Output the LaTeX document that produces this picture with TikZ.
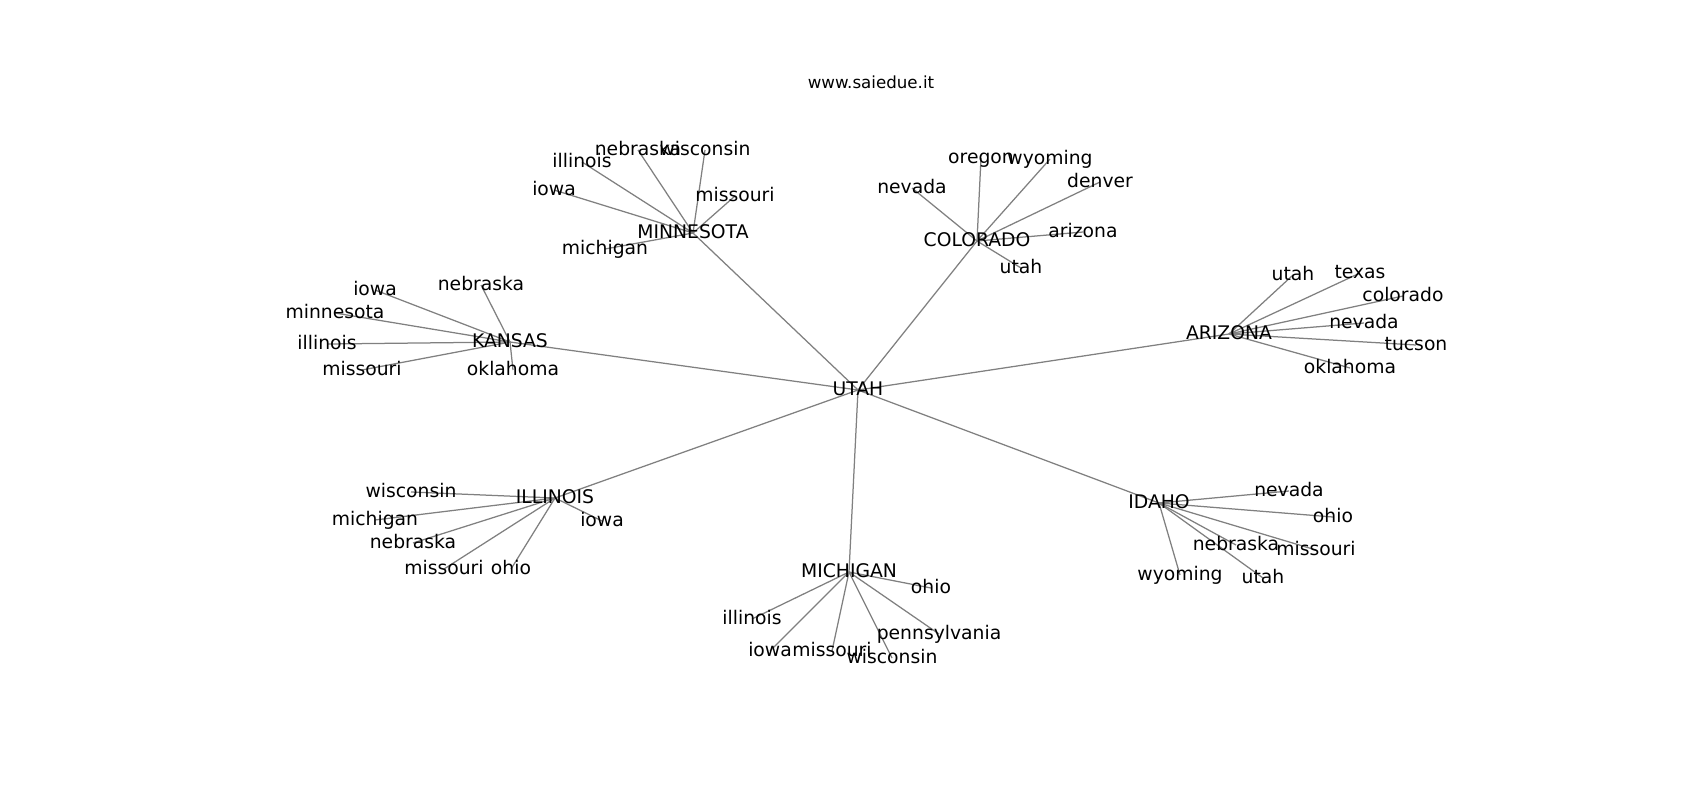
\documentclass[tikz,border=0pt]{standalone}
\usepackage{fontspec}
\setmainfont{DejaVu Sans}
\definecolor{edgegray}{RGB}{128,128,128}
\tikzset{
  lbl/.style={inner sep=0pt, anchor=center, text height=0.92em, text depth=0.08em, font=\fontsize{13.5}{16}\selectfont},
  ttl/.style={inner sep=0pt, anchor=center, font=\fontsize{12}{14}\selectfont},
  edge/.style={draw=edgegray, line width=0.9pt}
}
\begin{document}
\begin{tikzpicture}[x=0.72pt,y=-0.72pt]
\useasboundingbox (0,0) rectangle (1700,800);
\fill[white] (0,0) rectangle (1700,800);
% hubs
\coordinate (ut) at (858,390);
\coordinate (mn) at (693,233);
\coordinate (co) at (977,241);
\coordinate (ks) at (510,342);
\coordinate (az) at (1229,334);
\coordinate (il) at (555,498);
\coordinate (mi) at (849,572);
\coordinate (id) at (1159,503);
% minnesota leaves
\coordinate (mn-ne) at (638,150);
\coordinate (mn-wi) at (705,150);
\coordinate (mn-il) at (582,162);
\coordinate (mn-io) at (554,190);
\coordinate (mn-mo) at (735,196);
\coordinate (mn-mi) at (605,249);
% colorado leaves
\coordinate (co-or) at (981,158);
\coordinate (co-wy) at (1050,159);
\coordinate (co-de) at (1100,182);
\coordinate (co-nv) at (912,188);
\coordinate (co-az) at (1083,232);
\coordinate (co-ut) at (1021,268);
% kansas leaves
\coordinate (ks-ne) at (481,285);
\coordinate (ks-io) at (375,290);
\coordinate (ks-mn) at (335,313);
\coordinate (ks-il) at (327,344);
\coordinate (ks-mo) at (362,370);
\coordinate (ks-ok) at (513,370);
% arizona leaves
\coordinate (az-ut) at (1293,275);
\coordinate (az-tx) at (1360,273);
\coordinate (az-co) at (1403,296);
\coordinate (az-nv) at (1364,323);
\coordinate (az-tu) at (1416,345);
\coordinate (az-ok) at (1350,368);
% illinois leaves
\coordinate (il-wi) at (411,492);
\coordinate (il-mi) at (375,520);
\coordinate (il-ne) at (413,543);
\coordinate (il-mo) at (444,569);
\coordinate (il-oh) at (511,569);
\coordinate (il-io) at (602,521);
% michigan leaves
\coordinate (mi-oh) at (931,588);
\coordinate (mi-il) at (752,619);
\coordinate (mi-io) at (770,651);
\coordinate (mi-mo) at (832,651);
\coordinate (mi-pa) at (939,634);
\coordinate (mi-wi) at (892,658);
% idaho leaves
\coordinate (id-nv) at (1289,491);
\coordinate (id-oh) at (1333,517);
\coordinate (id-ne) at (1236,545);
\coordinate (id-mo) at (1316,550);
\coordinate (id-wy) at (1180,575);
\coordinate (id-ut) at (1263,578);
% edges
\foreach \h in {mn,co,ks,az,il,mi,id} \draw[edge] (ut) -- (\h);
\foreach \l in {ne,wi,il,io,mo,mi} \draw[edge] (mn) -- (mn-\l);
\foreach \l in {or,wy,de,nv,az,ut} \draw[edge] (co) -- (co-\l);
\foreach \l in {ne,io,mn,il,mo,ok} \draw[edge] (ks) -- (ks-\l);
\foreach \l in {ut,tx,co,nv,tu,ok} \draw[edge] (az) -- (az-\l);
\foreach \l in {wi,mi,ne,mo,oh,io} \draw[edge] (il) -- (il-\l);
\foreach \l in {oh,il,io,mo,pa,wi} \draw[edge] (mi) -- (mi-\l);
\foreach \l in {nv,oh,ne,mo,wy,ut} \draw[edge] (id) -- (id-\l);
% labels
\node[ttl] (title) at (871,82) {www.saiedue.it};
\node[lbl] (ut-l) at (ut) {UTAH};
\node[lbl] (mn-l) at (mn) {MINNESOTA};
\node[lbl] (co-l) at (co) {COLORADO};
\node[lbl] (ks-l) at (ks) {KANSAS};
\node[lbl] (az-l) at (az) {ARIZONA};
\node[lbl] (il-l) at (il) {ILLINOIS};
\node[lbl] (mi-l) at (mi) {MICHIGAN};
\node[lbl] (id-l) at (id) {IDAHO};
\node[lbl] (mn-ne-l) at (mn-ne) {nebraska};
\node[lbl] (mn-wi-l) at (mn-wi) {wisconsin};
\node[lbl] (mn-il-l) at (mn-il) {illinois};
\node[lbl] (mn-io-l) at (mn-io) {iowa};
\node[lbl] (mn-mo-l) at (mn-mo) {missouri};
\node[lbl] (mn-mi-l) at (mn-mi) {michigan};
\node[lbl] (co-or-l) at (co-or) {oregon};
\node[lbl] (co-wy-l) at (co-wy) {wyoming};
\node[lbl] (co-de-l) at (co-de) {denver};
\node[lbl] (co-nv-l) at (co-nv) {nevada};
\node[lbl] (co-az-l) at (co-az) {arizona};
\node[lbl] (co-ut-l) at (co-ut) {utah};
\node[lbl] (ks-ne-l) at (ks-ne) {nebraska};
\node[lbl] (ks-io-l) at (ks-io) {iowa};
\node[lbl] (ks-mn-l) at (ks-mn) {minnesota};
\node[lbl] (ks-il-l) at (ks-il) {illinois};
\node[lbl] (ks-mo-l) at (ks-mo) {missouri};
\node[lbl] (ks-ok-l) at (ks-ok) {oklahoma};
\node[lbl] (az-ut-l) at (az-ut) {utah};
\node[lbl] (az-tx-l) at (az-tx) {texas};
\node[lbl] (az-co-l) at (az-co) {colorado};
\node[lbl] (az-nv-l) at (az-nv) {nevada};
\node[lbl] (az-tu-l) at (az-tu) {tucson};
\node[lbl] (az-ok-l) at (az-ok) {oklahoma};
\node[lbl] (il-wi-l) at (il-wi) {wisconsin};
\node[lbl] (il-mi-l) at (il-mi) {michigan};
\node[lbl] (il-ne-l) at (il-ne) {nebraska};
\node[lbl] (il-mo-l) at (il-mo) {missouri};
\node[lbl] (il-oh-l) at (il-oh) {ohio};
\node[lbl] (il-io-l) at (il-io) {iowa};
\node[lbl] (mi-oh-l) at (mi-oh) {ohio};
\node[lbl] (mi-il-l) at (mi-il) {illinois};
\node[lbl] (mi-io-l) at (mi-io) {iowa};
\node[lbl] (mi-mo-l) at (mi-mo) {missouri};
\node[lbl] (mi-pa-l) at (mi-pa) {pennsylvania};
\node[lbl] (mi-wi-l) at (mi-wi) {wisconsin};
\node[lbl] (id-nv-l) at (id-nv) {nevada};
\node[lbl] (id-oh-l) at (id-oh) {ohio};
\node[lbl] (id-ne-l) at (id-ne) {nebraska};
\node[lbl] (id-mo-l) at (id-mo) {missouri};
\node[lbl] (id-wy-l) at (id-wy) {wyoming};
\node[lbl] (id-ut-l) at (id-ut) {utah};
\end{tikzpicture}
\end{document}
